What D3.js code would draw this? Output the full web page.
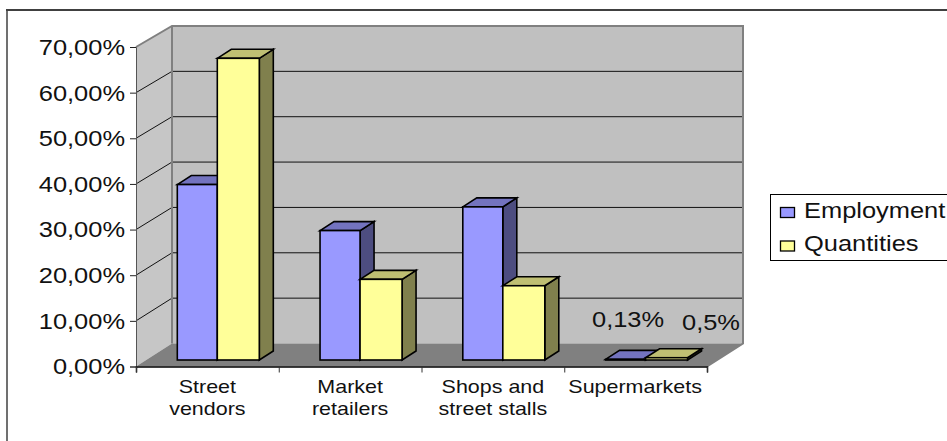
<!DOCTYPE html>
<html><head><meta charset="utf-8">
<script src="https://cdn.jsdelivr.net/npm/d3@7"></script>
<style>
html,body{margin:0;padding:0;background:#fff}
svg{display:block}
text{font-family:"Liberation Sans",Arial,sans-serif;fill:#111}
</style></head><body>
<svg id="c" width="947" height="441"></svg>
<script>
const categories=[["Street","vendors"],["Market","retailers"],["Shops and","street stalls"],["Supermarkets"]];
const seriesNames=["Employment","Quantities"];
const employment=[38.5,28.4,33.6,0.13];
const quantities=[66.2,17.7,16.3,0.5];
const yTicks=[0,10,20,30,40,50,60,70];
const dataLabels=["0,13%","0,5%"];
const colors={Employment:{front:"#9999FF",top:"#7373BF",side:"#4D4D80"},Quantities:{front:"#FFFF99",top:"#BFBF73",side:"#80804D"}};

const svg=d3.select("#c");
const fmt=v=>d3.format(".2f")(v).replace(".",",")+"%";
const X0=136,X1=707,DX=36;
const x=d3.scaleBand().domain(d3.range(categories.length)).range([X0,X1]).paddingInner(0).paddingOuter(0);
const y=d3.scaleLinear().domain([0,70]).range([366.5,47]);
const yBack=d3.scaleLinear().domain([0,70]).range([343.5,26]);
const yBar=d3.scaleLinear().domain([0,70]).range([360,41]);
const xSeries=d3.scaleLinear().domain([0,1,2]).range([0,40,82]);
const barInset=41.3, bdx=14, bdy=-9;

// outer frame (top and left only)
svg.append("line").attr("x1",6).attr("x2",947).attr("y1",10).attr("y2",10).attr("stroke","#404040").attr("stroke-width",2);
svg.append("line").attr("x1",7).attr("x2",7).attr("y1",10).attr("y2",441).attr("stroke","#404040").attr("stroke-width",1.5);

// walls
const poly=(pts,fill,stroke,sw)=>svg.append("polygon").attr("points",pts.map(p=>p.join(",")).join(" ")).attr("fill",fill).attr("stroke",stroke||"none").attr("stroke-width",sw||0);
poly([[X0+DX,yBack(70)],[X1+DX,yBack(70)],[X1+DX,yBack(0)],[X0+DX,yBack(0)]],"#C0C0C0");
poly([[X0,y(70)],[X0+DX,yBack(70)],[X0+DX,yBack(0)],[X0,y(0)]],"#C6C6C6");
poly([[X0,y(0)],[X0+DX,yBack(0)],[X1+DX,yBack(0)],[X1,y(0)]],"#808080");

// gridlines
const inner=yTicks.filter(t=>t>0&&t<70);
svg.selectAll(".g").data(inner).join("path").attr("fill","none").attr("stroke","#111").attr("stroke-width",1)
  .attr("d",t=>`M${X0},${y(t)}L${X0+DX},${yBack(t)}H${X1+DX}`);
svg.append("path").attr("fill","none").attr("stroke","#808080").attr("stroke-width",2)
  .attr("d",`M${X0},${y(70)}L${X0+DX},${yBack(70)}H${X1+DX}V${yBack(0)}L${X1},${y(0)}`);
svg.append("path").attr("fill","none").attr("stroke","#808080").attr("stroke-width",2)
  .attr("d",`M${X0+DX},${yBack(70)}V${yBack(0)}`);

// bars
const series=[employment,quantities];
categories.forEach((c,i)=>{
  series.forEach((vals,s)=>{
    const col=colors[seriesNames[s]];
    const xa=x(i)+barInset+xSeries(s), xb=x(i)+barInset+xSeries(s+1);
    const yt=yBar(vals[i]), yb=yBar(0);
    const g=svg.append("g").attr("stroke","#000").attr("stroke-width",1.6).attr("stroke-linejoin","miter");
    g.append("polygon").attr("fill",col.side).attr("points",[[xb,yt],[xb+bdx,yt+bdy],[xb+bdx,yb+bdy],[xb,yb]].join(" "));
    g.append("polygon").attr("fill",col.top).attr("points",[[xa,yt],[xa+bdx,yt+bdy],[xb+bdx,yt+bdy],[xb,yt]].join(" "));
    g.append("rect").attr("fill",col.front).attr("x",xa).attr("y",yt).attr("width",xb-xa).attr("height",yb-yt);
  });
});

// axes
const SX=1.2, FS=21.2;
const ax=svg.append("g").attr("transform",`translate(${X0},0)`).call(d3.axisLeft(y).tickValues(yTicks).tickFormat(fmt).tickSize(6).tickPadding(5));
ax.select(".domain").attr("stroke","#555").attr("stroke-width",1);
ax.selectAll(".tick line").attr("stroke","#222");
ax.selectAll("text").attr("font-size",FS).attr("font-family","Liberation Sans").attr("fill","#111")
  .attr("x",-11/SX).attr("transform",`scale(${SX},1)`);
ax.selectAll(".tick text").attr("dy","0.35em");

const bx=svg.append("g").attr("transform",`translate(0,${y(0)})`).call(d3.axisBottom(d3.scaleLinear().domain([0,categories.length]).range([X0,X1])).tickValues(d3.range(categories.length+1)).tickFormat("").tickSize(6));
bx.select(".domain").attr("stroke","#000").attr("stroke-width",1.5);
bx.selectAll(".tick line").attr("stroke","#333");

// category labels
const CSX=1.13;
categories.forEach((lines,i)=>{
  lines.forEach((t,k)=>{
    svg.append("text").text(t).attr("font-size",19).attr("text-anchor","middle")
      .attr("transform",`translate(${x(i)+x.bandwidth()/2+(i==3?-0.5:0)},${392.5+k*22.5}) scale(${CSX},1)`);
  });
});

// data labels
const lblPos=[[592,327],[682,330]];
dataLabels.forEach((t,k)=>{
  svg.append("text").text(t).attr("font-size",FS).attr("transform",`translate(${lblPos[k][0]},${lblPos[k][1]}) scale(${SX},1)`);
});

// legend
svg.append("rect").attr("x",770.5).attr("y",194.5).attr("width",190).attr("height",66).attr("fill","#fff").attr("stroke","#000").attr("stroke-width",1);
const legY=[207.5,241];
const legB=[218,250.5];
seriesNames.forEach((n,k)=>{
  svg.append("rect").attr("x",780.5).attr("y",legY[k]).attr("width",14).attr("height",10).attr("fill",colors[n].front).attr("stroke","#000").attr("stroke-width",1.3);
  svg.append("text").text(n).attr("font-size",FS).attr("transform",`translate(804,${legB[k]}) scale(${SX},1)`);
});
</script></body></html>
